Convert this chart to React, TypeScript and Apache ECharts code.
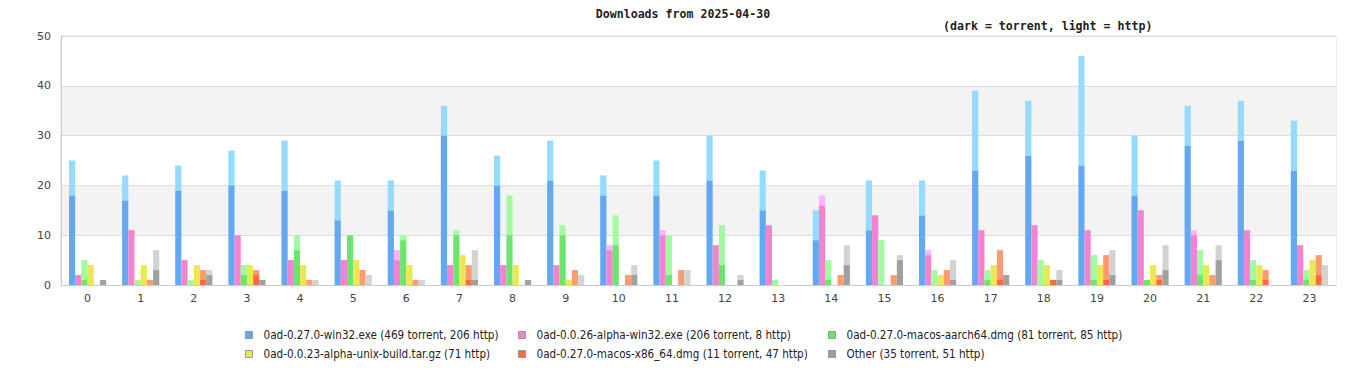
import React, { useEffect, useRef } from "react";
import * as echarts from "echarts";

const hours = ["0","1","2","3","4","5","6","7","8","9","10","11","12","13","14","15","16","17","18","19","20","21","22","23"];

const packages = [
  "0ad-0.27.0-win32.exe (469 torrent, 206 http)",
  "0ad-0.0.26-alpha-win32.exe (206 torrent, 8 http)",
  "0ad-0.27.0-macos-aarch64.dmg (81 torrent, 85 http)",
  "0ad-0.0.23-alpha-unix-build.tar.gz (71 http)",
  "0ad-0.27.0-macos-x86_64.dmg (11 torrent, 47 http)",
  "Other (35 torrent, 51 http)",
];

const win32Torrent = [18,17,19,20,19,13,15,30,20,21,18,18,21,15,9,11,14,23,26,24,18,28,29,23];
const win32Http = [7,5,5,7,10,8,6,6,6,8,4,7,9,8,6,10,7,16,11,22,12,8,8,10];
const a26Torrent = [2,11,5,10,5,5,5,4,4,4,7,10,8,12,16,14,6,11,12,11,15,10,11,8];
const a26Http = [0,0,0,0,0,0,2,0,0,0,1,1,0,0,2,0,1,0,0,0,0,1,0,0];
const aarchTorrent = [1,0,0,2,7,10,9,10,10,10,8,2,4,0,1,0,0,1,0,1,1,2,1,1];
const aarchHttp = [4,1,1,2,3,0,1,1,8,2,6,8,8,1,4,9,3,2,5,5,0,5,4,2];
const unixTorrent = [0,0,0,0,0,0,0,0,0,0,0,0,0,0,0,0,0,0,0,0,0,0,0,0];
const unixHttp = [4,4,4,4,4,5,4,6,4,1,0,0,0,0,0,0,2,4,4,4,4,4,4,5];
const x86Torrent = [0,0,1,2,0,0,0,1,0,0,0,0,0,0,0,0,0,1,1,1,1,0,1,2];
const x86Http = [0,1,2,1,1,3,1,3,0,3,2,3,0,0,2,2,3,6,0,5,1,2,2,4];
const otherTorrent = [1,3,2,1,0,0,0,1,1,0,2,0,1,0,4,5,1,2,1,2,3,5,0,0];
const otherHttp = [0,4,1,0,1,2,1,6,0,2,2,3,1,0,4,1,4,0,2,5,5,3,0,4];

const yTicks = [0, 10, 20, 30, 40, 50];

const torrentData = [win32Torrent, a26Torrent, aarchTorrent, unixTorrent, x86Torrent, otherTorrent];
const httpData = [win32Http, a26Http, aarchHttp, unixHttp, x86Http, otherHttp];
const darkColors = ["#62a8f2", "#f283cf", "#6de46d", "#e9e953", "#ff6a3f", "#a0a0a0"];
const lightColors = ["#94dbfd", "#fbb4fb", "#a2fc9f", "#e9e953", "#ff9b70", "#d3d3d3"];

const legendPos = [
  { left: 245, top: 329 },
  { left: 518, top: 329 },
  { left: 828, top: 329 },
  { left: 245, top: 348 },
  { left: 518, top: 348 },
  { left: 828, top: 348 },
];

export default function App() {
  const ref = useRef<HTMLDivElement>(null);
  useEffect(() => {
    document.body.style.margin = "0";
    const chart = echarts.init(ref.current!, undefined, { renderer: "svg" });
    const series: any[] = [];
    packages.forEach((p, i) => {
      series.push({
        name: p,
        type: "bar",
        stack: "s" + i,
        data: torrentData[i],
        itemStyle: { color: darkColors[i] },
        barCategoryGap: "30%",
        barGap: "0%",
      });
      series.push({
        name: p + " http",
        type: "bar",
        stack: "s" + i,
        data: httpData[i],
        itemStyle: { color: lightColors[i] },
        barCategoryGap: "30%",
        barGap: "0%",
      });
    });
    const legends = packages.map((p, i) => ({
      data: [p],
      left: legendPos[i].left,
      top: legendPos[i].top,
      padding: 0,
      itemWidth: 7,
      itemHeight: 7,
      icon: "rect",
      itemStyle: { borderColor: "#999", borderWidth: 1 },
      selectedMode: false,
      textStyle: {
        fontFamily: "'Liberation Sans Narrow', 'DejaVu Sans Condensed', 'DejaVu Sans', sans-serif",
        fontSize: 11.6,
        color: "#222",
        padding: [0, 0, 0, 6],
      },
    }));
    chart.setOption({
      animation: false,
      backgroundColor: "#fff",
      title: {
        text: "Downloads from 2025-04-30",
        left: "center",
        top: 3,
        textStyle: { fontFamily: "'DejaVu Sans Mono', monospace", fontSize: 11.6, fontWeight: "bold", color: "#222" },
      },
      graphic: [
        {
          type: "text",
          left: 943,
          top: 20,
          style: {
            text: "(dark = torrent, light = http)",
            font: "bold 11.6px 'DejaVu Sans Mono', monospace",
            fill: "#222",
          },
        },
      ],
      legend: legends,
      grid: { left: 61, right: 30, top: 36, bottom: 95, show: true, borderColor: "#ddd", borderWidth: 1 },
      xAxis: {
        type: "category",
        data: hours,
        axisLine: { lineStyle: { color: "#ccc" } },
        axisTick: { show: false },
        axisLabel: { color: "#444", fontFamily: "'DejaVu Sans', sans-serif", fontSize: 11, margin: 8 },
      },
      yAxis: {
        type: "value",
        min: yTicks[0],
        max: yTicks[yTicks.length - 1],
        interval: 10,
        axisLine: { show: true, lineStyle: { color: "#ccc" } },
        axisTick: { show: false },
        axisLabel: { color: "#444", fontFamily: "'DejaVu Sans', sans-serif", fontSize: 11, margin: 10 },
        splitLine: { lineStyle: { color: "#ddd" } },
        splitArea: { show: true, areaStyle: { color: ["#ffffff", "#f3f3f3"] } },
      },
      series,
    });
    return () => chart.dispose();
  }, []);
  return <div ref={ref} style={{ width: 1366, height: 380 }} />;
}
